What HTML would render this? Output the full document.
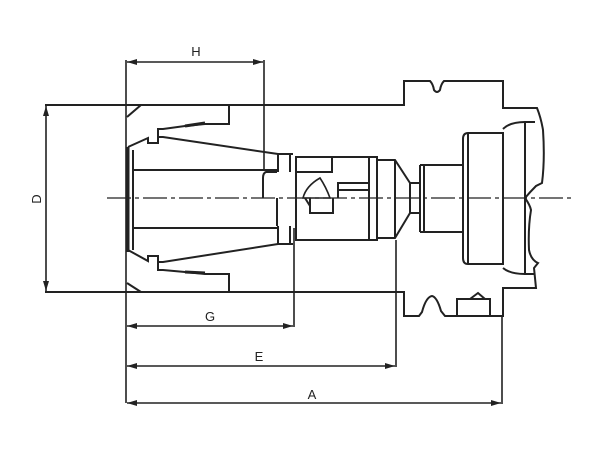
<!DOCTYPE html>
<html><head><meta charset="utf-8"><style>
html,body{margin:0;padding:0;background:#fff;}
svg{display:block;}
text{font-family:"Liberation Sans",sans-serif;font-size:13px;fill:#222;}
</style></head><body>
<svg width="600" height="450" viewBox="0 0 600 450" xmlns="http://www.w3.org/2000/svg">
<defs>
<marker id="ar" viewBox="0 0 10 6" refX="10" refY="3" markerWidth="10" markerHeight="6" orient="auto-start-reverse" markerUnits="userSpaceOnUse">
<path d="M0,0 L10,3 L0,6 Z" fill="#222"/>
</marker>
</defs>
<g stroke="#222" stroke-width="2" fill="none" stroke-linejoin="miter">
<!-- centerline -->
<line x1="107" y1="198" x2="572" y2="198" stroke-width="1.3" stroke-dasharray="24,4,4,4"/>
<!-- outer body -->
<path d="M45,105 H404 V81 H430 Q433,84 434,90 Q437,94 440,90 Q441,84 444,81 H503 V108 H537 Q541,118 543,130 Q545,160 542,183 L536,186 Q530,192 525,198 Q530,205 531,210 Q528,228 529,250 Q531,260 538,263 L534,268 L536,288 H503 V316 H445 L441,311 Q437,297 432,296 Q426,297 422,312 L419,316 H404 V292 H45"/>
<!-- bottom small rect with triangle -->
<path d="M457,316 V299 H490 V316 M470,299 L478,293 L485,299"/>
<!-- left face -->
<line x1="126" y1="60" x2="126" y2="403" stroke-width="1.6"/>
<line x1="128" y1="147" x2="128" y2="252" stroke-width="3"/>
<path d="M127,117 L141,105"/>
<path d="M127,283 L141,292"/>
<!-- upper collar -->
<path d="M229,105 V124 H205 L185,126 L163,129 H158 V143 H148 V138 L128,147"/>
<path d="M158,137 L163,137 L278,154 H293"/>
<line x1="185" y1="126" x2="205" y2="123" stroke-width="3"/>
<!-- lower collar -->
<path d="M229,292 V274 H205 L185,272 L163,270 H158 V256 H148 V261 L128,250"/>
<path d="M158,262 L163,262 L278,244 H293"/>
<line x1="185" y1="272" x2="205" y2="273" stroke-width="3"/>
<!-- bore -->
<path d="M133,170 H278 M133,228 H277"/>
<line x1="133" y1="150" x2="133" y2="250"/>
<!-- inner sleeve -->
<path d="M278,154 V172 M278,226 V244 M290,154 V172 M290,226 V244 M277,172 H266 Q263,173 263,178 V198 M277,226 V198"/>
<!-- nut -->
<path d="M296,157 H377 V240 H296 Z"/>
<path d="M296,172 H332 V157"/>
<path d="M320,178 Q326,187 330,198 H303 Q306,186 320,178 Z" stroke-width="1.6"/>
<path d="M338,198 V190 H369 M338,190 V183 H369 V198"/>
<path d="M305,198 L310,206 M310,198 V213 H333 V198"/>
<path d="M369,157 V240"/>
<!-- cone -->
<path d="M377,160 H395 L410,183 V213 L395,238 H377"/>
<line x1="395" y1="160" x2="395" y2="238"/>
<!-- neck & shaft -->
<path d="M410,183 H420 V213 H410"/>
<path d="M420,165 V232 M424,165 V232 M420,165 H463 M420,232 H463"/>
<!-- flange -->
<path d="M468,133 H503 V264 H468 Q463,264 463,258 V139 Q463,133 468,133 Z"/>
<path d="M468,133 V264"/>
<path d="M503,129 Q510,122 525,122 H535 M503,268 Q510,274 525,274 H535"/>
<line x1="525" y1="122" x2="525" y2="275"/>
<!-- extension lines -->
<line x1="264" y1="60" x2="264" y2="170" stroke-width="1.6"/>
<line x1="294" y1="228" x2="294" y2="327" stroke-width="1.6"/>
<line x1="396" y1="240" x2="396" y2="367" stroke-width="1.6"/>
<line x1="502" y1="316" x2="502" y2="404" stroke-width="1.6"/>
<!-- dimension lines -->
<line x1="127" y1="62" x2="263" y2="62" stroke-width="1.6" marker-start="url(#ar)" marker-end="url(#ar)"/>
<line x1="46" y1="106" x2="46" y2="291" stroke-width="1.6" marker-start="url(#ar)" marker-end="url(#ar)"/>
<line x1="127" y1="326" x2="293" y2="326" stroke-width="1.6" marker-start="url(#ar)" marker-end="url(#ar)"/>
<line x1="127" y1="366" x2="395" y2="366" stroke-width="1.6" marker-start="url(#ar)" marker-end="url(#ar)"/>
<line x1="127" y1="403" x2="501" y2="403" stroke-width="1.6" marker-start="url(#ar)" marker-end="url(#ar)"/>
</g>
<text x="196" y="56" text-anchor="middle">H</text>
<text x="41" y="199" text-anchor="middle" transform="rotate(-90 41 199)" dy="0">D</text>
<text x="210" y="321" text-anchor="middle">G</text>
<text x="259" y="361" text-anchor="middle">E</text>
<text x="312" y="399" text-anchor="middle">A</text>
</svg>
</body></html>
